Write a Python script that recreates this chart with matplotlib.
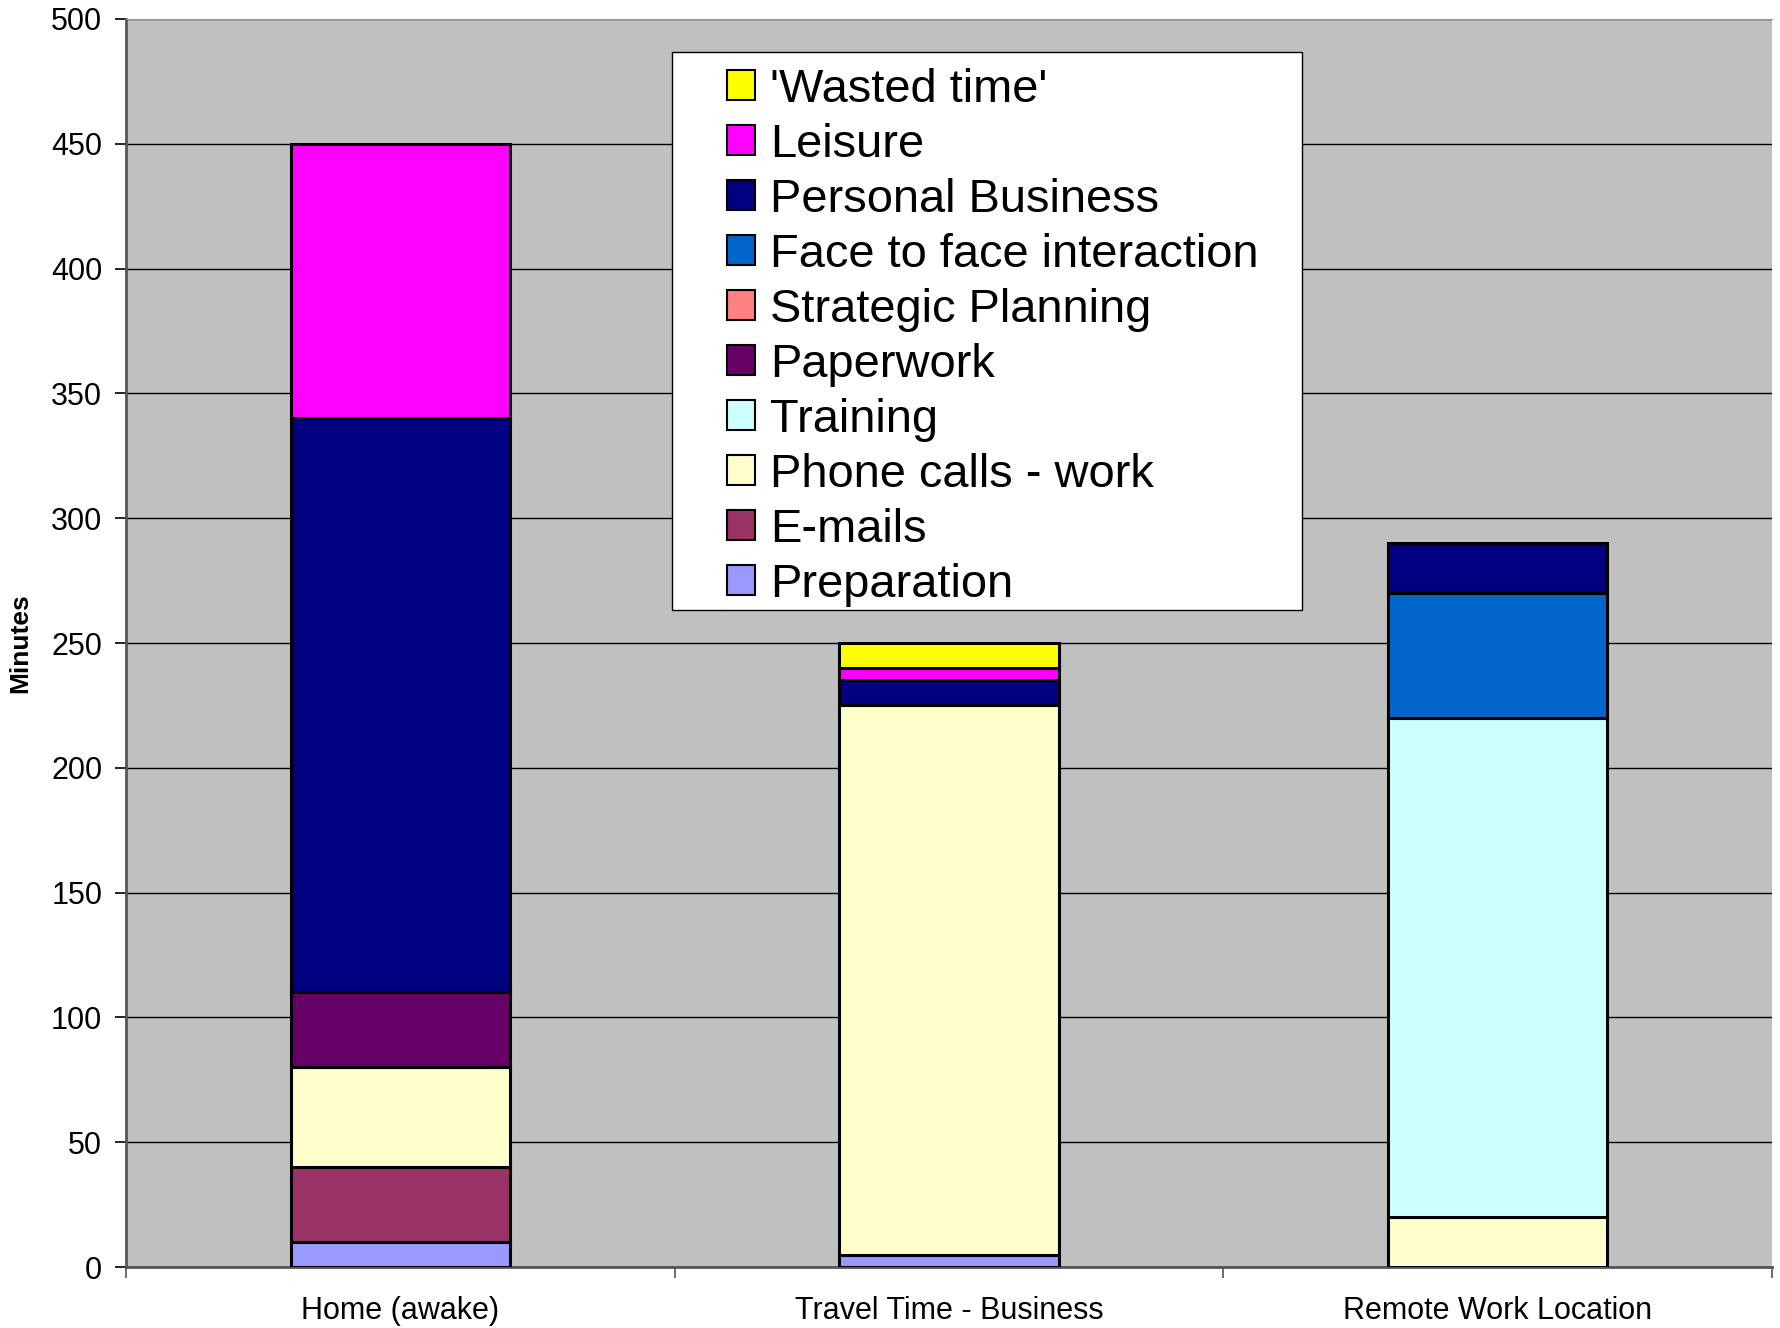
import matplotlib
matplotlib.use("Agg")
import matplotlib.pyplot as plt
import numpy as np
from matplotlib.patches import Patch, Rectangle

plt.rcParams['font.family'] = ['Liberation Sans', 'DejaVu Sans']

categories = ["Home (awake)", "Travel Time - Business", "Remote Work Location"]
series_names = ["Preparation", "E-mails", "Phone calls - work", "Training", "Paperwork",
                "Strategic Planning", "Face to face interaction", "Personal Business",
                "Leisure", "'Wasted time'"]
preparation = [10, 5, 0]
emails = [30, 0, 0]
phone_calls = [40, 220, 20]
training = [0, 0, 200]
paperwork = [30, 0, 0]
strategic = [0, 0, 0]
face_to_face = [0, 0, 50]
personal_business = [230, 10, 20]
leisure = [110, 5, 0]
wasted = [0, 10, 0]
series_values = [preparation, emails, phone_calls, training, paperwork, strategic,
                 face_to_face, personal_business, leisure, wasted]
colors = ["#9999FF", "#993366", "#FFFFCC", "#CCFFFF", "#660066", "#FF8080",
          "#0066CC", "#000080", "#FF00FF", "#FFFF00"]
legend_order = ["'Wasted time'", "Leisure", "Personal Business", "Face to face interaction",
                "Strategic Planning", "Paperwork", "Training", "Phone calls - work",
                "E-mails", "Preparation"]
yticks = [0, 50, 100, 150, 200, 250, 300, 350, 400, 450, 500]

fig = plt.figure(figsize=(17.81, 13.28), dpi=100)
ax = fig.add_axes([0.0707, 0.0459, 0.9243, 0.9398])
ax.set_facecolor("#C0C0C0")

x = np.arange(len(categories)) + 0.5
bottom = np.zeros(len(categories))
for name, vals, c in zip(series_names, series_values, colors):
    v = np.array(vals, dtype=float)
    mask = v > 0
    ax.bar(x[mask], v[mask], width=0.4, bottom=bottom[mask], color=c,
           edgecolor="black", linewidth=2.2, zorder=3)
    bottom += v

ax.set_xlim(0, 3)
ax.set_ylim(0, 500)
ax.set_yticks(yticks)
ax.set_yticklabels([str(t) for t in yticks], fontsize=22)
ax.yaxis.grid(True, color="black", linewidth=1.0, zorder=0)
ax.set_axisbelow(True)
ax.set_xticks(x)
ax.set_xticklabels(categories, fontsize=22)
ax.tick_params(axis='x', which='major', length=0, pad=21)
ax.set_xticks([0, 1, 2, 3], minor=True)
ax.tick_params(axis='x', which='minor', length=8, width=1.2, color="#555555")
ax.tick_params(axis='y', length=8, width=1.2, pad=9)
for s in ["left", "bottom"]:
    ax.spines[s].set_color("#555555")
    ax.spines[s].set_linewidth(2)
ax.spines["top"].set_color("#999999")
ax.spines["right"].set_visible(False)

ax.set_ylabel("Minutes", fontsize=19, fontweight="bold")
ax.yaxis.set_label_coords(-0.057, 0.5)

# legend frame
frame = Rectangle((0.3317, 0.5264), 0.7145 - 0.3317, 0.9736 - 0.5264,
                  transform=ax.transAxes, facecolor="white", edgecolor="black",
                  linewidth=1.0, zorder=5)
ax.add_patch(frame)

handles = []
for name in legend_order:
    i = series_names.index(name)
    handles.append(Patch(facecolor=colors[i], edgecolor="black", linewidth=1.5, label=name))
leg = ax.legend(handles=handles, loc="upper left", bbox_to_anchor=(0.3651, 0.961),
                fontsize=33.8, frameon=False, borderpad=0,
                labelspacing=0.235, handlelength=0.6, handleheight=0.6,
                handletextpad=0.32, borderaxespad=0)
leg.set_zorder(6)

fig.savefig("out.png", dpi=100)
